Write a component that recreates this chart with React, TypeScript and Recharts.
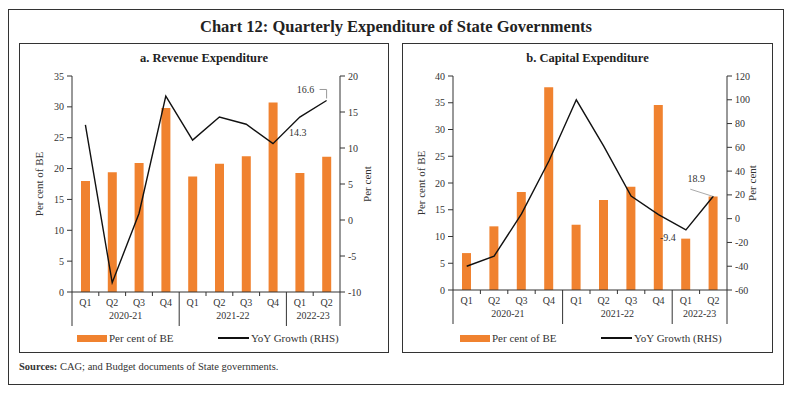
import React from 'react'
import { ComposedChart, Bar, Line, XAxis, YAxis, Legend, LabelList } from 'recharts'

const quarters = ['Q1', 'Q2', 'Q3', 'Q4', 'Q1', 'Q2', 'Q3', 'Q4', 'Q1', 'Q2']
const fiscalYears = ['2020-21', '2021-22', '2022-23']
const yearSpans = [4, 4, 2]

// a. Revenue expenditure
const revenueBE = [18.0, 19.4, 20.9, 29.8, 18.7, 20.8, 22.0, 30.7, 19.3, 21.9]
const revenueYoY = [13.2, -8.7, 0.9, 17.2, 11.1, 14.3, 13.3, 10.6, 14.3, 16.6]
const revLeftTicks = [0, 5, 10, 15, 20, 25, 30, 35]
const revRightTicks = [-10, -5, 0, 5, 10, 15, 20]

// b. Capital expenditure
const capitalBE = [6.9, 11.9, 18.3, 37.9, 12.2, 16.8, 19.3, 34.6, 9.6, 17.5]
const capitalYoY = [-40, -31.5, 4, 48.5, 100, 61, 19, 3.4, -9.4, 18.9]
const capLeftTicks = [0, 5, 10, 15, 20, 25, 30, 35, 40]
const capRightTicks = [-60, -40, -20, 0, 20, 40, 60, 80, 100, 120]

const ORANGE = '#F0822F'
const INK = '#333'
const FONT = '"Liberation Serif", "Times New Roman", serif'

const groupStarts = yearSpans.map((_, i) => yearSpans.slice(0, i).reduce((a, b) => a + b, 0))

const makeRows = (be: number[], yoy: number[]) =>
  quarters.map((q, i) => ({ key: String(i), q, be: be[i], yoy: yoy[i] }))

const revenueRows = makeRows(revenueBE, revenueYoY)
const capitalRows = makeRows(capitalBE, capitalYoY)

const CH_H = 308

function makeQuarterTick(bw: number) {
  return (p: any) => {
    const i = p.payload?.index ?? p.index
    const x = p.x
    const base = p.y
    const left = x - bw / 2
    const g = groupStarts.indexOf(i)
    return (
      <g>
        {g >= 0 ? (
          <>
            <line x1={left} x2={left} y1={base} y2={base + 34} stroke={INK} />
            <text x={left + (yearSpans[g] * bw) / 2} y={base + 27} textAnchor="middle" fontSize={10} fill={INK} fontFamily={FONT}>
              {fiscalYears[g]}
            </text>
          </>
        ) : (
          <line x1={left} x2={left} y1={base} y2={base + 4} stroke={INK} />
        )}
        {i === quarters.length - 1 && <line x1={x + bw / 2} x2={x + bw / 2} y1={base} y2={base + 34} stroke={INK} />}
        <text x={x} y={base + 14} textAnchor="middle" fontSize={10} fill={INK} fontFamily={FONT}>
          {quarters[i]}
        </text>
      </g>
    )
  }
}

const LegendContent = () => (
  <div style={{ position: 'relative', height: 16, fontFamily: FONT, fontSize: 11, color: INK }}>
    <span style={{ position: 'absolute', left: 57, top: 5, width: 30, height: 7, background: ORANGE }} />
    <span style={{ position: 'absolute', left: 89, top: 0, lineHeight: '16px', whiteSpace: 'nowrap' }}>Per cent of BE</span>
    <span style={{ position: 'absolute', left: 198, top: 7, width: 31, height: 2, background: '#111' }} />
    <span style={{ position: 'absolute', left: 231, top: 0, lineHeight: '16px', whiteSpace: 'nowrap' }}>YoY Growth (RHS)</span>
  </div>
)

const RevenueLabel = (p: any) => {
  const { x, y, index, value } = p
  if (index === 8)
    return (
      <text x={x - 2} y={y + 19} textAnchor="middle" fontSize={10} fill={INK} fontFamily={FONT}>
        {value}
      </text>
    )
  if (index === 9)
    return (
      <g>
        <polyline points={`${x - 7},${y - 11} ${x},${y - 11} ${x},${y - 2}`} fill="none" stroke="#999" />
        <text x={x - 21} y={y - 7} textAnchor="middle" fontSize={10} fill={INK} fontFamily={FONT}>
          {value}
        </text>
      </g>
    )
  return null
}

const CapitalLabel = (p: any) => {
  const { x, y, index, value } = p
  if (index === 8)
    return (
      <text x={x - 18} y={y + 11} textAnchor="middle" fontSize={10} fill={INK} fontFamily={FONT}>
        {value}
      </text>
    )
  if (index === 9)
    return (
      <g>
        <line x1={x - 23} y1={y - 7} x2={x - 1} y2={y} stroke="#aaa" />
        <text x={x - 17} y={y - 14} textAnchor="middle" fontSize={10} fill={INK} fontFamily={FONT}>
          {value}
        </text>
      </g>
    )
  return null
}

interface PanelProps {
  left: number
  width: number
  title: string
  rows: { key: string; q: string; be: number; yoy: number }[]
  leftTicks: number[]
  rightTicks: number[]
  leftW: number
  rightW: number
  plotTop: number
  xAxisH: number
  labelContent: (p: any) => React.ReactNode
}

function Panel({ left, width, title, rows, leftTicks, rightTicks, leftW, rightW, plotTop, xAxisH, labelContent }: PanelProps) {
  const chartW = width - 2
  const bw = (chartW - leftW - rightW) / rows.length
  return (
    <div style={{ position: 'absolute', left, top: 43, width, height: 310, border: `1px solid ${INK}`, boxSizing: 'border-box' }}>
      <div style={{ position: 'absolute', top: 6, left: 0, right: 0, textAlign: 'center', fontFamily: FONT, fontWeight: 'bold', fontSize: 12.5, color: '#222', lineHeight: '16px' }}>
        {title}
      </div>
      <div style={{ position: 'absolute', left: 0, top: 0 }}>
        <ComposedChart width={chartW} height={CH_H} data={rows} margin={{ top: plotTop, right: 0, bottom: 6, left: 0 }}>
          <XAxis
            dataKey="key"
            xAxisId="q"
            height={xAxisH}
            tickSize={0}
            tickMargin={0}
            tickLine={false}
            axisLine={{ stroke: INK }}
            interval={0}
            tick={makeQuarterTick(bw)}
          />
          <YAxis
            yAxisId="l"
            width={leftW}
            domain={[leftTicks[0], leftTicks[leftTicks.length - 1]]}
            ticks={leftTicks}
            interval={0}
            tickSize={5}
            tickMargin={3}
            axisLine={{ stroke: INK }}
            tickLine={{ stroke: INK }}
            tick={{ fontSize: 10, fill: INK, fontFamily: FONT }}
            label={{ value: 'Per cent of BE', angle: -90, position: 'center', dx: -7, fontSize: 11, fill: INK, fontFamily: FONT }}
          />
          <YAxis
            yAxisId="r"
            orientation="right"
            width={rightW}
            domain={[rightTicks[0], rightTicks[rightTicks.length - 1]]}
            ticks={rightTicks}
            interval={0}
            tickSize={5}
            tickMargin={3}
            axisLine={{ stroke: INK }}
            tickLine={{ stroke: INK }}
            tick={{ fontSize: 10, fill: INK, fontFamily: FONT }}
            label={{ value: 'Per cent', angle: -90, position: 'center', dx: 3, fontSize: 11, fill: INK, fontFamily: FONT }}
          />
          <Legend verticalAlign="bottom" content={LegendContent} />
          <Bar dataKey="be" xAxisId="q" yAxisId="l" fill={ORANGE} barSize={9} isAnimationActive={false} name="Per cent of BE" />
          <Line dataKey="yoy" xAxisId="q" yAxisId="r" stroke="#111" strokeWidth={1.4} dot={false} activeDot={false} isAnimationActive={false} name="YoY Growth (RHS)">
            <LabelList dataKey="yoy" content={labelContent} />
          </Line>
        </ComposedChart>
      </div>
    </div>
  )
}

export default function App() {
  return (
    <div style={{ position: 'absolute', left: 0, top: 0, width: 792, height: 395, background: '#fff', fontFamily: FONT }}>
      <div style={{ position: 'absolute', left: 8, top: 9, width: 776, height: 376, border: `1px solid ${INK}`, boxSizing: 'border-box' }} />
      <div style={{ position: 'absolute', left: 8, top: 17, width: 776, textAlign: 'center', fontWeight: 'bold', fontSize: 16.5, color: '#222', lineHeight: '20px' }}>
        Chart 12: Quarterly Expenditure of State Governments
      </div>
      <Panel
        left={19}
        width={370}
        title="a. Revenue Expenditure"
        rows={revenueRows}
        leftTicks={revLeftTicks}
        rightTicks={revRightTicks}
        leftW={52}
        rightW={48}
        plotTop={32}
        xAxisH={38}
        labelContent={RevenueLabel}
      />
      <Panel
        left={402}
        width={371}
        title="b. Capital Expenditure"
        rows={capitalRows}
        leftTicks={capLeftTicks}
        rightTicks={capRightTicks}
        leftW={50}
        rightW={45}
        plotTop={32}
        xAxisH={40}
        labelContent={CapitalLabel}
      />
      <div style={{ position: 'absolute', left: 19, top: 360, fontSize: 10.5, color: INK, lineHeight: '14px' }}>
        <b>Sources:</b> CAG; and Budget documents of State governments.
      </div>
    </div>
  )
}
